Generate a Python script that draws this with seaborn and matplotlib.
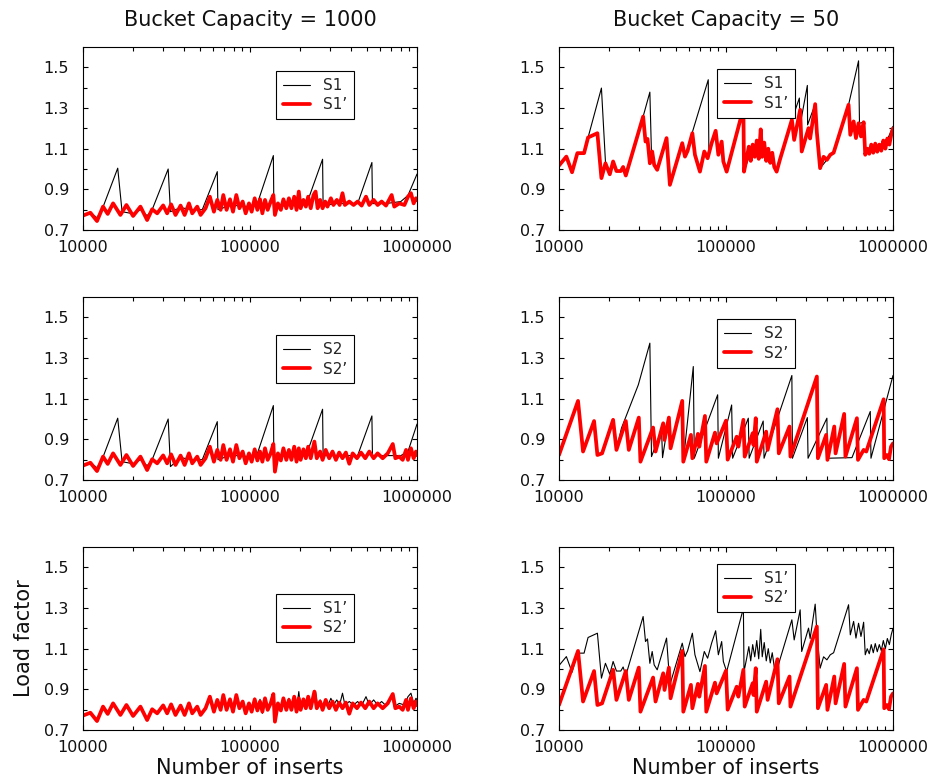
import matplotlib
matplotlib.use("Agg")
import matplotlib.pyplot as plt
from matplotlib.ticker import LogLocator, NullFormatter, FixedLocator
import seaborn as sns

# ---------------- bucket capacity = 1000 ----------------
# S1 (black sawtooth)
inserts_s1_1000 = [10000, 11070, 12130, 13000, 16140, 17140, 19950, 22080, 24210, 25950,
                   32360, 33400, 38400, 45100, 51800, 63700, 64300, 75900, 90400, 102300,
                   110700, 138000, 139000, 160000, 190000, 221000, 272000, 274000, 330000, 400000,
                   441000, 537000, 541000, 650000, 800000, 883000, 1000000]
lf_s1_1000 = [0.771, 0.785, 0.760, 0.800, 1.004, 0.790, 0.780, 0.800, 0.770, 0.800,
              1.000, 0.790, 0.810, 0.800, 0.800, 0.987, 0.800, 0.820, 0.820, 0.810,
              0.830, 1.066, 0.800, 0.820, 0.820, 0.840, 1.048, 0.820, 0.830, 0.830,
              0.830, 1.032, 0.830, 0.830, 0.840, 0.870, 0.975]

# S1' (red, noisy)
inserts_s1p_1000 = [10000, 11070, 12130, 13180, 14060, 15140, 16750, 18200, 19950, 22080,
                    24210, 25950, 27810, 30200, 31900, 33700, 35800, 38400, 40600, 43100,
                    45100, 48300, 50600, 54200, 57500, 60800, 63700, 66700, 69200, 72400,
                    75900, 79100, 82800, 86400, 90400, 94200, 98600, 102300, 106700, 110700,
                    114800, 118600, 123000, 127600, 133000, 138000, 141000, 147000, 153000, 158500,
                    165000, 171000, 177000, 184000, 190000, 196000, 201000, 209000, 216000, 223000,
                    231000, 240000, 247000, 254000, 263000, 272000, 282000, 291000, 305000, 316000,
                    331000, 344000, 358000, 370000, 393000, 417000, 441000, 466000, 495000, 518000,
                    550000, 581000, 614000, 652000, 705000, 731000, 783000, 841000, 883000, 920000,
                    955000, 986000, 1000000]
lf_s1p_1000 = [0.771, 0.785, 0.744, 0.815, 0.779, 0.831, 0.774, 0.823, 0.769, 0.815,
               0.749, 0.802, 0.782, 0.821, 0.782, 0.826, 0.774, 0.820, 0.774, 0.831,
               0.782, 0.815, 0.774, 0.807, 0.864, 0.790, 0.848, 0.799, 0.872, 0.799,
               0.851, 0.790, 0.872, 0.807, 0.840, 0.782, 0.831, 0.790, 0.856, 0.799,
               0.851, 0.782, 0.848, 0.799, 0.840, 0.872, 0.774, 0.831, 0.799, 0.851,
               0.807, 0.856, 0.807, 0.864, 0.799, 0.889, 0.807, 0.848, 0.815, 0.864,
               0.807, 0.872, 0.889, 0.807, 0.848, 0.807, 0.840, 0.815, 0.856, 0.823,
               0.848, 0.823, 0.881, 0.823, 0.840, 0.823, 0.840, 0.820, 0.864, 0.823,
               0.848, 0.823, 0.840, 0.820, 0.872, 0.815, 0.831, 0.823, 0.864, 0.881,
               0.831, 0.856, 0.848]

# S2 (black sawtooth)
inserts_s2_1000 = [10000, 11070, 12130, 13000, 16140, 17140, 19950, 22080, 24210, 25950,
                   32360, 33400, 38400, 45100, 51800, 63700, 64300, 75900, 90400, 102300,
                   110700, 138000, 139000, 160000, 190000, 221000, 272000, 274000, 330000, 400000,
                   441000, 537000, 541000, 650000, 800000, 883000, 1000000]
lf_s2_1000 = [0.771, 0.785, 0.760, 0.800, 1.004, 0.790, 0.780, 0.800, 0.770, 0.800,
              1.000, 0.766, 0.810, 0.800, 0.800, 0.987, 0.800, 0.820, 0.820, 0.810,
              0.830, 1.066, 0.800, 0.820, 0.820, 0.840, 1.048, 0.820, 0.820, 0.820,
              0.820, 1.015, 0.820, 0.820, 0.820, 0.840, 0.975]

# S2' (red, noisy)
inserts_s2p_1000 = [10000, 11070, 12130, 13180, 14060, 15140, 16750, 18200, 19950, 22080,
                    24210, 25950, 27810, 30200, 31900, 33700, 35800, 38400, 40600, 43100,
                    45100, 48300, 50600, 54200, 57500, 60800, 63700, 66700, 69200, 72400,
                    75900, 79100, 82800, 86400, 90400, 94200, 98600, 102300, 106700, 110700,
                    114800, 118600, 123000, 127600, 133000, 138000, 141000, 147000, 153000, 158500,
                    165000, 171000, 177000, 184000, 190000, 196000, 201000, 209000, 216000, 223000,
                    231000, 243000, 251000, 263000, 272000, 284000, 298000, 312000, 327000, 342000,
                    358000, 375000, 393000, 412000, 437000, 462000, 490000, 518000, 550000, 581000,
                    623000, 668000, 716000, 742000, 783000, 821000, 860000, 883000, 920000, 955000,
                    986000, 1000000]
lf_s2p_1000 = [0.771, 0.785, 0.744, 0.815, 0.779, 0.831, 0.774, 0.823, 0.769, 0.815,
               0.749, 0.802, 0.782, 0.821, 0.782, 0.826, 0.774, 0.820, 0.774, 0.831,
               0.782, 0.815, 0.774, 0.807, 0.864, 0.790, 0.848, 0.799, 0.872, 0.799,
               0.851, 0.790, 0.872, 0.807, 0.840, 0.782, 0.831, 0.790, 0.851, 0.796,
               0.840, 0.790, 0.856, 0.799, 0.831, 0.877, 0.741, 0.831, 0.796, 0.856,
               0.799, 0.848, 0.799, 0.864, 0.790, 0.856, 0.799, 0.851, 0.807, 0.864,
               0.807, 0.889, 0.807, 0.840, 0.799, 0.848, 0.807, 0.840, 0.799, 0.835,
               0.807, 0.835, 0.780, 0.831, 0.807, 0.835, 0.807, 0.840, 0.807, 0.831,
               0.807, 0.831, 0.877, 0.807, 0.815, 0.799, 0.848, 0.799, 0.856, 0.807,
               0.840, 0.823]

# ---------------- bucket capacity = 50 ----------------
# S1 (black sawtooth)
inserts_s1_50 = [10000, 11070, 11970, 12880, 14130, 14930, 17950, 18970, 20140, 21090,
                 22080, 23440, 24210, 25120, 31900, 35000, 35800, 37150, 38730, 44060,
                 46130, 54700, 56800, 78300, 79000, 86700, 90000, 94200, 96400, 100900,
                 127100, 128200, 140000, 160000, 184000, 201000, 211000, 248000, 275000, 277000,
                 307000, 308000, 342000, 350000, 366000, 402000, 441000, 542000, 622000, 630000,
                 667000, 682000, 783000, 900000, 1000000]
lf_s1_50 = [1.017, 1.061, 0.984, 1.078, 1.078, 1.155, 1.398, 1.037, 0.974, 1.037,
            0.990, 0.990, 1.010, 0.968, 1.258, 1.378, 1.070, 1.020, 0.996, 1.152,
            0.922, 1.127, 1.061, 1.439, 1.070, 1.188, 1.070, 1.135, 1.037, 0.987,
            1.299, 0.987, 1.080, 1.090, 1.060, 0.987, 1.050, 1.242, 1.349, 1.210,
            1.411, 1.217, 1.319, 1.180, 1.004, 1.045, 1.080, 1.316, 1.532, 1.225,
            1.230, 1.070, 1.110, 1.120, 1.210]

# S1' (red)
inserts_s1p_50 = [10000, 11070, 11970, 12880, 14130, 14930, 16980, 17950, 18970, 20140,
                  21090, 22080, 23440, 24210, 25120, 31900, 32960, 33880, 35000, 36140,
                  37150, 38730, 44060, 46130, 54700, 56800, 58880, 62880, 65160, 69800,
                  74130, 77620, 82000, 86700, 90000, 94200, 96400, 100900, 127100, 128200,
                  133000, 137000, 140600, 144500, 148600, 152800, 157000, 161400, 164800, 169400,
                  174200, 179100, 184100, 189200, 194500, 201000, 211000, 248000, 256000, 278000,
                  284000, 312000, 319000, 342000, 350000, 366000, 384000, 402000, 421000, 441000,
                  542000, 555000, 581000, 600000, 622000, 643000, 667000, 682000, 701000, 721000,
                  741000, 762000, 783000, 805000, 828000, 851000, 875000, 900000, 925000, 951000,
                  977000, 1000000]
lf_s1p_50 = [1.017, 1.061, 0.984, 1.078, 1.078, 1.155, 1.176, 0.955, 1.028, 0.974,
             1.037, 0.990, 0.990, 1.010, 0.968, 1.258, 1.135, 1.148, 1.028, 1.086,
             1.020, 0.996, 1.152, 0.922, 1.127, 1.061, 1.089, 1.176, 1.070, 0.987,
             1.086, 1.053, 1.127, 1.188, 1.070, 1.135, 1.037, 0.987, 1.299, 0.987,
             1.053, 1.110, 1.040, 1.120, 1.060, 1.140, 1.050, 1.195, 1.060, 1.130,
             1.040, 1.100, 1.030, 1.080, 1.010, 0.987, 1.050, 1.242, 1.143, 1.291,
             1.086, 1.201, 1.150, 1.319, 1.180, 1.004, 1.060, 1.045, 1.070, 1.080,
             1.316, 1.168, 1.234, 1.152, 1.225, 1.160, 1.230, 1.070, 1.100, 1.075,
             1.120, 1.080, 1.125, 1.085, 1.120, 1.090, 1.140, 1.100, 1.150, 1.120,
             1.170, 1.200]

# S2 (black sawtooth)
inserts_s2_50 = [10000, 13000, 13930, 16220, 16980, 18110, 21090, 22080, 23660, 29850,
                 35000, 35800, 41120, 41690, 45500, 46560, 54700, 55500, 63700, 64600,
                 89130, 90000, 108100, 109600, 136000, 137600, 167000, 169000, 248000, 250000,
                 307000, 310000, 402000, 405000, 568000, 731000, 738000, 1000000]
lf_s2_50 = [0.823, 1.089, 0.840, 0.990, 0.823, 0.831, 0.996, 0.848, 0.955, 1.168,
            1.373, 0.815, 0.946, 0.810, 1.007, 0.856, 1.089, 0.790, 1.258, 0.807,
            1.119, 0.807, 1.069, 0.807, 1.004, 0.807, 0.990, 0.807, 1.214, 0.807,
            1.007, 0.807, 1.004, 0.807, 0.810, 1.037, 0.807, 1.214]

# S2' (red sawtooth)
inserts_s2p_50 = [10000, 13000, 13930, 16220, 16980, 18110, 21090, 22080, 25120, 26180,
                  30050, 30740, 36600, 37850, 42070, 42850, 45500, 46560, 54700, 55500,
                  61660, 62880, 67900, 69200, 74800, 76200, 85900, 87900, 100000, 102300,
                  115900, 118600, 127100, 129400, 144500, 146200, 150700, 152800, 174000, 177500,
                  203300, 207000, 240000, 243200, 350000, 355000, 398000, 405000, 445000, 453000,
                  510000, 519000, 608000, 617000, 667000, 692000, 879000, 886000, 920000, 946000,
                  973000, 1000000]
lf_s2p_50 = [0.823, 1.089, 0.840, 0.990, 0.823, 0.831, 0.996, 0.848, 0.990, 0.848,
             1.007, 0.790, 0.958, 0.840, 0.979, 0.897, 1.007, 0.856, 1.089, 0.790,
             0.922, 0.807, 0.927, 0.864, 1.015, 0.790, 0.933, 0.880, 0.992, 0.800,
             0.913, 0.864, 0.996, 0.815, 0.930, 0.872, 1.004, 0.790, 0.938, 0.848,
             1.048, 0.831, 0.963, 0.815, 1.209, 0.807, 0.922, 0.799, 0.963, 0.831,
             1.025, 0.815, 1.004, 0.799, 0.848, 0.840, 1.097, 0.807, 0.823, 0.802,
             0.864, 0.880]

# axis tick values / labels
xtick_values = [10000, 100000, 1000000]
xtick_labels = ["10000", "100000", "1000000"]
ytick_major = [0.7, 0.9, 1.1, 1.3, 1.5]
ytick_minor = [0.8, 1.0, 1.2, 1.4]
column_titles = ["Bucket Capacity = 1000", "Bucket Capacity = 50"]

# ---------------- figure ----------------
sns.set_theme(style="ticks")
plt.rcParams["font.family"] = ["DejaVu Sans"]

W, H = 933, 783
fig = plt.figure(figsize=(W / 100, H / 100), dpi=100)
fig.patch.set_facecolor("white")

col_x = [83, 559]          # left edge of each column (px)
row_y = [47, 297, 547]     # top edge of each row (px)
ax_w, ax_h = 334, 183

THIN = dict(color="black", linewidth=0.8)
THICK = dict(color="#ff0000", linewidth=2.7)

panels = [
    (0, 0, ("S1", inserts_s1_1000, lf_s1_1000), ("S1\u2019", inserts_s1p_1000, lf_s1p_1000), (0.578, 0.869)),
    (0, 1, ("S1", inserts_s1_50, lf_s1_50), ("S1\u2019", inserts_s1p_50, lf_s1p_50), (0.473, 0.878)),
    (1, 0, ("S2", inserts_s2_1000, lf_s2_1000), ("S2\u2019", inserts_s2p_1000, lf_s2p_1000), (0.578, 0.792)),
    (1, 1, ("S2", inserts_s2_50, lf_s2_50), ("S2\u2019", inserts_s2p_50, lf_s2p_50), (0.473, 0.878)),
    (2, 0, ("S1\u2019", inserts_s1p_1000, lf_s1p_1000), ("S2\u2019", inserts_s2p_1000, lf_s2p_1000), (0.578, 0.743)),
    (2, 1, ("S1\u2019", inserts_s1p_50, lf_s1p_50), ("S2\u2019", inserts_s2p_50, lf_s2p_50), (0.473, 0.907)),
]

for row, col, thin, thick, anchor in panels:
    left = col_x[col] / W
    bottom = 1 - (row_y[row] + ax_h) / H
    ax = fig.add_axes([left, bottom, ax_w / W, ax_h / H])

    sns.lineplot(x=thin[1], y=thin[2], ax=ax, label=thin[0], estimator=None, sort=False, **THIN)
    sns.lineplot(x=thick[1], y=thick[2], ax=ax, label=thick[0], estimator=None, sort=False, **THICK)

    ax.set_xscale("log")
    ax.set_xlim(10000, 1000000)
    ax.set_ylim(0.7, 1.6)
    ax.set_xticks(xtick_values)
    ax.set_xticklabels(xtick_labels)
    ax.xaxis.set_minor_locator(LogLocator(base=10, subs=range(2, 10)))
    ax.xaxis.set_minor_formatter(NullFormatter())
    ax.set_yticks(ytick_major)
    ax.set_yticklabels([f"{v:.1f}" for v in ytick_major])
    ax.yaxis.set_minor_locator(FixedLocator(ytick_minor))

    ax.tick_params(which="both", direction="in", top=True, right=True,
                   color="black", width=0.8, labelsize=11.5, labelcolor="#111111")
    ax.tick_params(which="major", length=3.8)
    ax.tick_params(which="minor", length=3.0)
    ax.tick_params(axis="y", which="major", pad=10)
    ax.tick_params(axis="x", which="major", pad=7)
    for sp in ax.spines.values():
        sp.set_visible(True)
        sp.set_color("black")
        sp.set_linewidth(0.8)

    ax.set_xlabel("")
    ax.set_ylabel("")
    if row == 0:
        ax.set_title(column_titles[col], fontsize=15, pad=15, color="#111111")
    if row == 2:
        ax.set_xlabel("Number of inserts", fontsize=15, labelpad=2, color="#111111")
        if col == 0:
            ax.set_ylabel("Load factor", fontsize=15, labelpad=7, color="#111111")

    leg = ax.legend(loc="upper left", bbox_to_anchor=anchor, borderaxespad=0,
                    frameon=True, fancybox=False, shadow=False, framealpha=1,
                    edgecolor="black", fontsize=11, handlelength=1.8,
                    handletextpad=0.8, borderpad=0.45, labelspacing=0.3)
    leg.get_frame().set_linewidth(0.8)

fig.savefig("out.png", dpi=100, facecolor="white")
